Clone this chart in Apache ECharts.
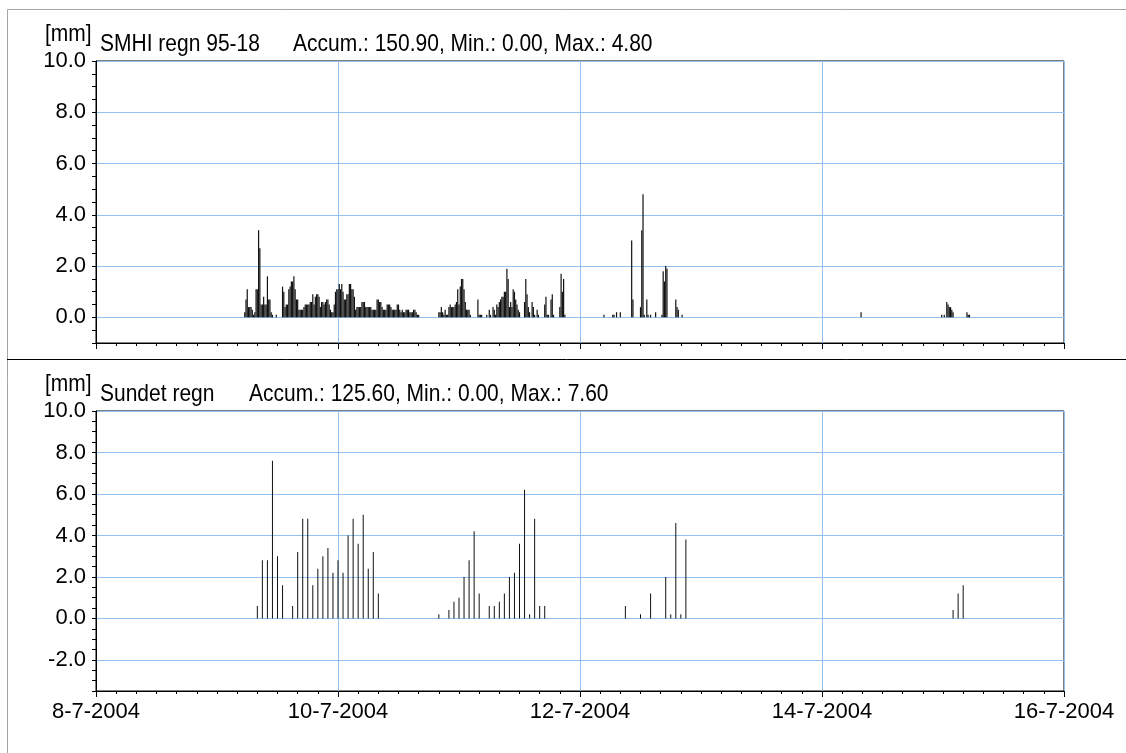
<!DOCTYPE html>
<html>
<head>
<meta charset="utf-8">
<script src="https://cdn.jsdelivr.net/npm/echarts@6/dist/echarts.min.js"></script>
<style>
  html, body { margin: 0; padding: 0; background: #fff; }
  #chart { width: 1126px; height: 753px; }
</style>
</head>
<body>
<div id="chart"></div>
<script>
// Time origin of both x axes (8 July 2004, 00:00); x values are hours from here.
const AXIS_ORIGIN = '2004-07-08 00:00';
const dayTickLabels = ['8-7-2004', '10-7-2004', '12-7-2004', '14-7-2004', '16-7-2004'];

// SMHI regn 95-18: 15-minute rainfall [mm], one array per wet run.
const smhiRunStarts = ['2004-07-09 05:30', '2004-07-10 20:00', '2004-07-12 04:45', '2004-07-14 07:45', '2004-07-14 23:45'];
const smhiRun1 = [
  0.2, 0.7, 1.1, 0.4, 0.4, 0.4, 0.3, 0.1, 0.2, 1.1,
  1.1, 3.4, 2.7, 0.5, 0.5, 0.8, 0.5, 0.5, 1.6, 0.7,
  0.7, 0.2, 0.1, 0, 0, 0.1, 0, 0, 0, 0,
  1.2, 1.0, 0.4, 0.5, 0.5, 1.1, 1.2, 1.4, 1.4, 1.6,
  1.1, 0.7, 0.7, 0.3, 0.3, 0.3, 0.3, 0.4, 0.5, 0.5,
  0.5, 0.5, 0.6, 0.6, 0.9, 0.5, 0.8, 0.9, 0.9, 0.8,
  0.4, 0.6, 0.6, 0.5, 0.6, 0.7, 0.7, 0.5, 0.3, 0.2,
  0.2, 0.5, 1.0, 1.1, 1.1, 1.3, 1.1, 1.3, 1.0, 0.7,
  0.7, 0.9, 0.9, 1.3, 1.3, 1.1, 1.1, 0.8, 0.3, 0.4,
  0.4, 0.4, 0.4, 0.6, 0.6, 0.6, 0.4, 0.4, 0.4, 0.4,
  0.4, 0.3, 0.3, 0.3, 0.3, 0.7, 0.7, 0.6, 0.6, 0.4,
  0.3, 0.3, 0.3, 0.5, 0.5, 0.5, 0.4, 0.3, 0.3, 0.3,
  0.3, 0.5, 0.5, 0.3, 0.2, 0.3, 0.2, 0.2, 0.3, 0.3,
  0.3, 0.2, 0.2, 0.2, 0.3, 0.3, 0.2, 0.1, 0.1
];
const smhiRun2 = [
  0.2, 0.2, 0.4, 0.2, 0.1, 0.3, 0.1, 0.1, 0.4, 0.5,
  0.4, 0.4, 0.4, 0.5, 0.6, 1.1, 0.5, 1.2, 1.5, 1.5,
  1.1, 0.6, 0.3, 0.3, 0.3, 0.1, 0, 0, 0, 0,
  0, 0.7, 0.1, 0.1, 0.1, 0, 0, 0, 0.1, 0,
  0.3, 0.1, 0, 0.4, 0.3, 0.1, 0.5, 0.4, 0.6, 0.7,
  0.8, 0.8, 1.0, 1.0, 1.9, 1.5, 0.4, 0.6, 0.4, 1.1,
  1.0, 0.7, 0.5, 0.3, 0.2, 0, 0, 0, 0.6, 1.5,
  0.9, 0.4, 0.2, 0, 0.6, 0.4, 0.1, 0, 0.3, 0.1,
  0, 0, 0, 0, 0.5, 0.8, 0.1, 0.1, 0, 0.7,
  0.9, 0.1, 0, 0, 0, 0, 0.4, 1.7, 1.0, 1.5, 0.1
];
const smhiRun3 = [
  0.1, 0, 0, 0, 0, 0, 0, 0.1, 0.1, 0,
  0.2, 0, 0, 0.2, 0, 0, 0, 0, 0, 0,
  0, 0, 3.0, 0.7, 0, 0, 0, 0, 0, 0.4,
  3.4, 4.8, 0.1, 0, 0.7, 0.1, 0, 0.1, 0, 0,
  0, 0.2, 0, 0, 0, 0, 0.1, 1.8, 1.4, 2.0,
  1.9, 0, 0, 0, 0, 0, 0, 0.7, 0.4, 0.3,
  0, 0, 0.1
];
const smhiRun4 = [0.2];
const smhiRun5 = [
  0.1, 0, 0.1, 0, 0.6, 0.5, 0.4, 0.4, 0.3, 0.2,
  0, 0, 0, 0, 0, 0, 0, 0, 0, 0,
  0.2, 0.1, 0.1
];

// Sundet regn: hourly rainfall [mm], one array per wet run.
const sundetRunStarts = ['2004-07-09 08:00', '2004-07-10 20:00', '2004-07-12 09:00', '2004-07-15 02:00'];
const sundetRun1 = [0.6, 2.8, 2.8, 7.6, 3.0, 1.6, 0, 0.6, 3.2, 4.8, 4.8, 1.6, 2.4, 3.0, 3.4, 2.2, 2.8, 2.2, 4.0, 4.8, 3.6, 5.0, 2.4, 3.2, 1.2];
const sundetRun2 = [0.2, 0, 0.4, 0.8, 1.0, 2.0, 2.8, 4.2, 1.2, 0, 0.6, 0.6, 0.8, 1.2, 2.0, 2.2, 3.6, 6.2, 0.2, 4.8, 0.6, 0.6];
const sundetRun3 = [0.6, 0, 0, 0.2, 0, 1.2, 0, 0, 2.0, 0.2, 4.6, 0.2, 3.8];
const sundetRun4 = [0.4, 1.2, 1.6];

const smhiName = 'SMHI regn 95-18';
const sundetName = 'Sundet regn';
const unitLabel = '[mm]';

// ---------------------------------------------------------------------------
function hoursSinceOrigin(stamp) {
  const [d, t] = stamp.split(' ');
  const [Y, M, D] = d.split('-').map(Number);
  const [h, m] = t.split(':').map(Number);
  const [oY, oM, oD] = AXIS_ORIGIN.split(' ')[0].split('-').map(Number);
  return (Date.UTC(Y, M - 1, D, h, m) - Date.UTC(oY, oM - 1, oD, 0, 0)) / 3600000;
}

function buildPoints(starts, runs, stepHours) {
  const pts = [];
  runs.forEach((run, r) => {
    const h0 = hoursSinceOrigin(starts[r]);
    run.forEach((v, i) => { if (v > 0) pts.push([h0 + i * stepHours, v]); });
  });
  return pts;
}

const smhiPoints = buildPoints(smhiRunStarts, [smhiRun1, smhiRun2, smhiRun3, smhiRun4, smhiRun5], 0.25);
const sundetPoints = buildPoints(sundetRunStarts, [sundetRun1, sundetRun2, sundetRun3, sundetRun4], 1);

// Header statistics of a station: accumulated, minimum and maximum rainfall.
function stats(points) {
  const vals = points.map(p => p[1]);
  const acc = vals.reduce((a, b) => a + b, 0);
  return 'Accum.: ' + acc.toFixed(2) + ', Min.: ' + (0).toFixed(2) + ', Max.: ' + Math.max(...vals).toFixed(2);
}

const FONT = "'Liberation Sans', Arial, sans-serif";
const GRID_BLUE = '#93c1ef';
const CLEAR = 'rgba(0,0,0,0)';

function xAxisFor(gridIndex, showLabels) {
  return {
    gridIndex, type: 'value', min: 0, max: 192, interval: 48,
    axisLine: { show: true, onZero: false, lineStyle: { color: '#000', width: 1 } },
    axisTick: { show: true, length: 6, lineStyle: { color: '#000' } },
    minorTick: { show: true, splitNumber: 12, length: 3, lineStyle: { color: '#000' } },
    axisLabel: {
      show: showLabels, margin: 10, fontSize: 22, fontFamily: FONT, color: '#000',
      formatter: v => dayTickLabels[Math.round(v / 48)] || ''
    },
    splitLine: { show: true, lineStyle: { color: GRID_BLUE, width: 1 } }
  };
}

// y ticks every 0.5; labels and grid lines only on even values.
function yAxisFor(gridIndex, min, max) {
  const steps = Math.round(-min / 0.5);
  const colors = [CLEAR, CLEAR, CLEAR, CLEAR];
  colors[((steps % 4) + 4) % 4] = GRID_BLUE;
  return {
    gridIndex, type: 'value', min, max, interval: 0.5,
    axisLine: { show: true, onZero: false, lineStyle: { color: '#000', width: 1 } },
    axisTick: { show: true, length: 4, lineStyle: { color: '#000' } },
    axisLabel: {
      margin: 10, fontSize: 22, fontFamily: FONT, color: '#000', padding: [4, 0, 0, 0],
      formatter: v => (Math.abs(v % 2) < 1e-9 ? v.toFixed(1) : '')
    },
    splitLine: { show: true, lineStyle: { color: colors, width: 1 } }
  };
}

function textEl(x, y, text) {
  return {
    type: 'text', x, y, scaleY: 1.1,
    style: { text, fontSize: 21, fontFamily: FONT, fill: '#000', verticalAlign: 'middle' }
  };
}

const chart = echarts.init(document.getElementById('chart'), null, { renderer: 'canvas' });
chart.setOption({
  animation: false,
  backgroundColor: '#fff',
  grid: [
    { left: 96, top: 61, width: 968, height: 282, show: true, borderColor: '#000', borderWidth: 1 },
    { left: 96, top: 411, width: 968, height: 280, show: true, borderColor: '#000', borderWidth: 1 }
  ],
  xAxis: [xAxisFor(0, false), xAxisFor(1, true)],
  yAxis: [yAxisFor(0, -1, 10), yAxisFor(1, -3.5, 10)],
  series: [
    { type: 'bar', xAxisIndex: 0, yAxisIndex: 0, data: smhiPoints, barWidth: 1.2,
      itemStyle: { color: '#111' }, silent: true },
    { type: 'bar', xAxisIndex: 1, yAxisIndex: 1, data: sundetPoints, barWidth: 1,
      itemStyle: { color: '#111' }, silent: true }
  ],
  graphic: [
    { type: 'line', shape: { x1: 7.5, y1: 9.5, x2: 1126, y2: 9.5 }, style: { stroke: '#a6a6a6', lineWidth: 1 } },
    { type: 'line', shape: { x1: 7.5, y1: 9.5, x2: 7.5, y2: 753 }, style: { stroke: '#a6a6a6', lineWidth: 1 } },
    { type: 'line', shape: { x1: 7, y1: 359.5, x2: 1126, y2: 359.5 }, style: { stroke: '#000', lineWidth: 1 } },
    textEl(45, 35, unitLabel),
    textEl(100, 45, smhiName),
    textEl(293, 45, stats(smhiPoints)),
    textEl(45, 385, unitLabel),
    textEl(100, 395, sundetName),
    textEl(249, 395, stats(sundetPoints))
  ]
});
</script>
</body>
</html>
